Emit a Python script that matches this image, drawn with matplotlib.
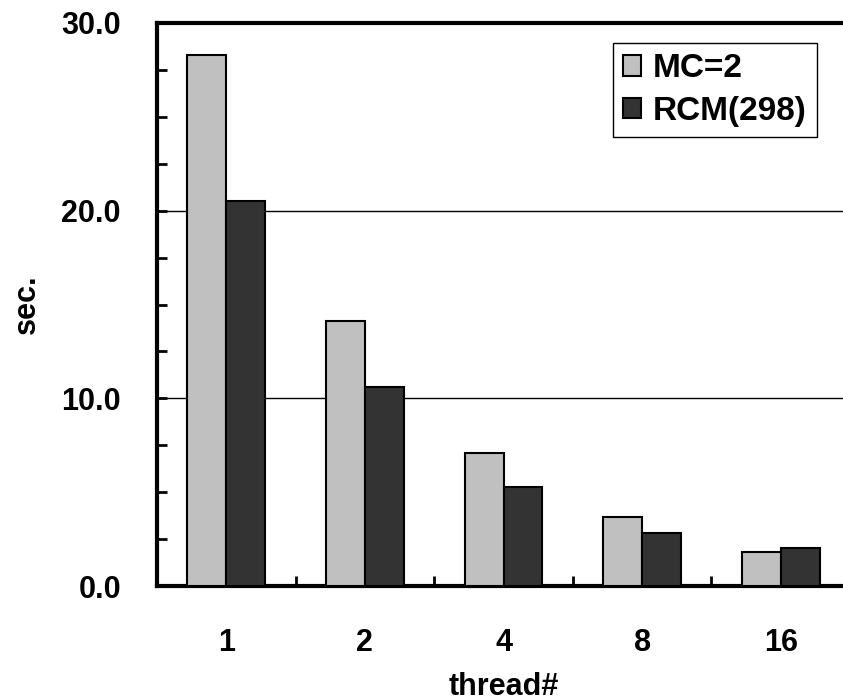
from matplotlib import pyplot as plt
import numpy as np

plt.rcParams["font.family"] = ["Liberation Sans", "DejaVu Sans"]
plt.rcParams["font.weight"] = "bold"
plt.rcParams["axes.labelweight"] = "bold"
plt.rcParams["font.size"] = 22

threads = ["1", "2", "4", "8", "16"]
mc2 = [28.3, 14.1, 7.1, 3.7, 1.8]
rcm = [20.5, 10.6, 5.3, 2.8, 2.0]

fig = plt.figure(figsize=(8.43, 7.0), dpi=100)
ax = fig.add_axes([157 / 843, 114 / 700, 693 / 843, 563 / 700])

x = np.arange(len(threads))
w = 0.28

ax.bar(x - w / 2, mc2, w, color="#C0C0C0", edgecolor="black", linewidth=1.5, label="MC=2", zorder=3)
ax.bar(x + w / 2, rcm, w, color="#333333", edgecolor="black", linewidth=1.5, label="RCM(298)", zorder=3)

ax.set_xlim(-0.5, len(threads) - 0.5)
ax.set_ylim(0, 30)

ax.set_yticks([0, 10, 20, 30])
ax.set_yticklabels(["0.0", "10.0", "20.0", "30.0"])
ax.set_yticks(np.arange(0, 30.1, 2.5), minor=True)
ax.set_xticks(x)
ax.set_xticklabels(threads)
ax.set_xticks(x[:-1] + 0.5, minor=True)

ax.tick_params(axis="y", which="both", direction="in", length=7, width=2, pad=26)
ax.tick_params(axis="x", which="both", direction="in", length=7, width=2, pad=30)

ax.grid(axis="y", which="major", color="black", linewidth=1, zorder=0)

for s in ["left", "bottom", "top", "right"]:
    ax.spines[s].set_linewidth(3)

ax.set_xlabel("thread#", labelpad=10)
ax.set_ylabel("sec.", labelpad=14)

leg = ax.legend(loc="upper right", bbox_to_anchor=(0.952, 0.964), fancybox=False, framealpha=1,
                edgecolor="black", fontsize=24, handlelength=0.55, handleheight=0.55, handletextpad=0.35,
                borderpad=0.3, labelspacing=0.35, borderaxespad=0)
leg.get_frame().set_linewidth(1)

plt.savefig("out.png", dpi=100)
